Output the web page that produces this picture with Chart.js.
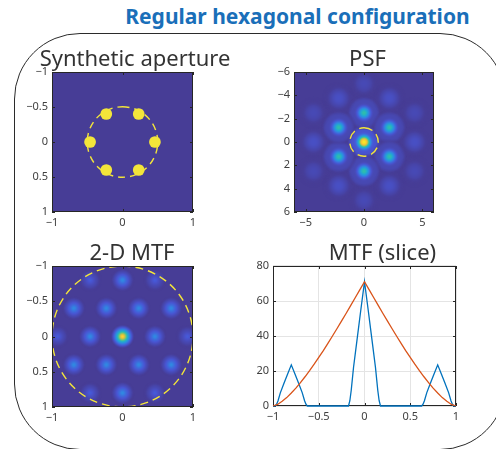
<!DOCTYPE html>
<html>
<head>
<meta charset="utf-8">
<title>Regular hexagonal configuration</title>
<script src="https://cdn.jsdelivr.net/npm/chart.js@4.4.1/dist/chart.umd.min.js"></script>
<style>
  html, body { margin: 0; padding: 0; background: #fff; }
  body { width: 496px; height: 449px; overflow: hidden; position: relative; font-family: "Noto Sans", sans-serif; }
  #mainTitle { position: absolute; left: 0; top: 2px; width: 595px; line-height: 28px; text-align: center;
               font-weight: bold; font-size: 21px; color: #1a6fb9; white-space: nowrap; }
  #frame { position: absolute; left: 14px; top: 33px; width: 492px; height: 417px; box-sizing: border-box;
           border: 1.3px solid #2b2b2b; border-radius: 66px; }
  canvas { position: absolute; }
</style>
</head>
<body>
<div id="mainTitle">Regular hexagonal configuration</div>
<div id="frame"></div>
<canvas id="aperture" width="250" height="195" style="left:10px; top:40px;"></canvas>
<canvas id="psf" width="231" height="195" style="left:252px; top:40px;"></canvas>
<canvas id="mtf2d" width="250" height="195" style="left:10px; top:234px;"></canvas>
<canvas id="slice" width="268" height="195" style="left:250px; top:234px;"></canvas>
<script>
/* global Chart */
Chart.defaults.font.family = '"Noto Sans", sans-serif';
Chart.defaults.animation = false;

// sub-aperture centres (pupil coordinates)
const apertureX = [0.46, 0.23, -0.23, -0.46, -0.23, 0.23];
const apertureY = [0, -0.4, -0.4, 0, 0.4, 0.4];
const apertureRing = 0.5;

// PSF lobes: centre, first ring, second ring, third ring
const psfSpotX = [0, 0, 2.17, 2.17, 0, -2.17, -2.17, 4.33, 2.17, -2.17, -4.33, -2.17, 2.17, 0, 4.33, 4.33, 0, -4.33, -4.33];
const psfSpotY = [0, -2.5, -1.25, 1.25, 2.5, 1.25, -1.25, 0, 3.75, 3.75, 0, -3.75, -3.75, -5, -2.5, 2.5, 5, 2.5, -2.5];
const psfSpotPeak = [1, 0.5, 0.5, 0.5, 0.5, 0.5, 0.5, 0.09, 0.09, 0.09, 0.09, 0.09, 0.09, 0.06, 0.06, 0.06, 0.06, 0.06, 0.06];
const psfRing = 1.22;

// 2-D MTF peaks
const mtfSpotX = [0, 0.46, 0.23, -0.23, -0.46, -0.23, 0.23, 0, 0.69, 0.69, 0, -0.69, -0.69, 0.92, 0.46, -0.46, -0.92, -0.46, 0.46];
const mtfSpotY = [0, 0, -0.4, -0.4, 0, 0.4, 0.4, -0.8, -0.4, 0.4, 0.8, 0.4, -0.4, 0, -0.8, -0.8, 0, 0.8, 0.8];
const mtfSpotPeak = [1, 0.3, 0.3, 0.3, 0.3, 0.3, 0.3, 0.3, 0.3, 0.3, 0.3, 0.3, 0.3, 0.15, 0.15, 0.15, 0.15, 0.15, 0.15];
const mtfRing = 1;

// MTF slice
const sliceBlueX = [-1, -0.975, -0.96, -0.945, -0.92, -0.88, -0.84, -0.8, -0.76, -0.72, -0.68, -0.655, -0.64, -0.625,
  -0.175, -0.16, -0.145, -0.12, -0.08, -0.04, 0, 0.04, 0.08, 0.12, 0.145, 0.16, 0.175,
  0.625, 0.64, 0.655, 0.68, 0.72, 0.76, 0.8, 0.84, 0.88, 0.92, 0.945, 0.96, 0.975, 1];
const sliceBlue = [0, 0, 1, 3, 7.5, 13, 18.3, 23.5, 18.3, 13, 7.5, 3, 1, 0,
  0, 3, 9, 22, 38.5, 55, 71, 55, 38.5, 22, 9, 3, 0,
  0, 1, 3, 7.5, 13, 18.3, 23.5, 18.3, 13, 7.5, 3, 1, 0, 0];
const sliceOrangeX = [-1, -0.95, -0.9, -0.85, -0.8, -0.75, -0.7, -0.65, -0.6, -0.55, -0.5, -0.45, -0.4, -0.35, -0.3, -0.25, -0.2, -0.15, -0.1, -0.05,
  0, 0.05, 0.1, 0.15, 0.2, 0.25, 0.3, 0.35, 0.4, 0.45, 0.5, 0.55, 0.6, 0.65, 0.7, 0.75, 0.8, 0.85, 0.9, 0.95, 1];
const sliceOrange = [0, 0.9, 2.7, 4.8, 7.4, 10.2, 13.4, 16.7, 20.2, 23.9, 27.8, 31.7, 35.8, 40, 44.3, 48.6, 53, 57.5, 62, 66.5,
  71, 66.5, 62, 57.5, 53, 48.6, 44.3, 40, 35.8, 31.7, 27.8, 23.9, 20.2, 16.7, 13.4, 10.2, 7.4, 4.8, 2.7, 0.9, 0];

// tick labels
const unitYTicks = [-1, -0.5, 0, 0.5, 1];
const unitXTicks = [-1, 0, 1];
const psfYTicks = [-6, -4, -2, 0, 2, 4, 6];
const psfXTicks = [-5, 0, 5];
const sliceXTicks = [-1, -0.5, 0, 0.5, 1];
const sliceYTicks = [0, 20, 40, 60, 80];

const yellow = '#f3e53a';
const tickColor = '#404040';

// parula-like colour map
const cmapStops = [
  [0.00, 71, 61, 150],
  [0.12, 72, 86, 212],
  [0.25, 52, 130, 226],
  [0.37, 32, 165, 214],
  [0.50, 48, 190, 170],
  [0.62, 128, 200, 108],
  [0.75, 222, 190, 60],
  [0.87, 248, 202, 52],
  [1.00, 246, 234, 40]
];
function cmapRGB(v) {
  v = Math.max(0, Math.min(1, v));
  for (let i = 1; i < cmapStops.length; i++) {
    const a = cmapStops[i - 1], b = cmapStops[i];
    if (v <= b[0]) {
      const t = (v - a[0]) / (b[0] - a[0]);
      return [a[1] + (b[1] - a[1]) * t, a[2] + (b[2] - a[2]) * t, a[3] + (b[3] - a[3]) * t];
    }
  }
  const l = cmapStops[cmapStops.length - 1];
  return [l[1], l[2], l[3]];
}
function cmap(v) {
  const c = cmapRGB(v);
  return 'rgb(' + c.map(Math.round).join(',') + ')';
}

// spot shapes, radius in axis units
const profiles = {
  psfCore: { name: 'core', R: 1.5, f: r => Math.exp(-r * r / (2 * 0.36 * 0.36)) + 0.09 * Math.exp(-Math.pow(r - 1.05, 2) / 0.08) },
  psfHalo: { name: 'halo', R: 1.4, f: r => Math.exp(-Math.pow(r / 0.75, 2.5)) },
  mtfCone: { name: 'cone', R: 0.17, f: r => Math.pow(Math.max(0, 1 - r / 0.17), 1.5) }
};

const spriteCache = new Map();
function spotSprite(peak, ppu, profile) {
  const key = peak + ':' + ppu.toFixed(2) + ':' + profile.name;
  if (spriteCache.has(key)) return spriteCache.get(key);
  const half = Math.ceil(profile.R * ppu);
  const size = half * 2;
  const c = document.createElement('canvas');
  c.width = c.height = size;
  const g = c.getContext('2d');
  const img = g.createImageData(size, size);
  for (let j = 0; j < size; j++) {
    for (let i = 0; i < size; i++) {
      const r = Math.hypot(i + 0.5 - half, j + 0.5 - half) / ppu;
      const k = (j * size + i) * 4;
      if (r > profile.R) { img.data[k + 3] = 0; continue; }
      const v = peak * profile.f(r);
      const col = cmapRGB(v);
      img.data[k] = col[0]; img.data[k + 1] = col[1]; img.data[k + 2] = col[2];
      img.data[k + 3] = Math.round(255 * Math.min(1, v / 0.03));
    }
  }
  g.putImageData(img, 0, 0);
  spriteCache.set(key, c);
  return c;
}

function pixelsPerUnit(chart) {
  const xs = chart.scales.x;
  if (!xs) return NaN;
  return Math.abs(xs.getPixelForValue(1) - xs.getPixelForValue(0));
}

function spotStyle(peaks, pick) {
  return ctx => {
    const peak = peaks[ctx.dataIndex];
    const ppu = pixelsPerUnit(ctx.chart);
    if (peak === undefined || !isFinite(ppu) || ppu <= 0) return 'circle';
    return spotSprite(peak, ppu, pick(peak));
  };
}

function fmt(v) {
  return v < 0 ? '\u2212' + (-v) : String(v);
}

function panelTitle(text) {
  return {
    display: true, text: text, color: '#333333',
    font: { size: 22, weight: 'normal', lineHeight: 1.15 },
    padding: { top: 6.7, bottom: 0 }
  };
}

function axis(min, max, ticks, extra) {
  return Object.assign({
    type: 'linear', min: min, max: max,
    grid: { display: false, drawTicks: false },
    border: { display: false },
    ticks: { padding: 4, color: tickColor, font: { size: 11 }, callback: fmt },
    afterBuildTicks: s => { s.ticks = ticks.map(v => ({ value: v })); }
  }, extra);
}

function spacer(w) {
  return {
    type: 'linear', position: 'right', min: 0, max: 1,
    grid: { display: false }, border: { display: false }, ticks: { display: false },
    afterFit: s => { s.width = w; }
  };
}

// fill, dashed ring, box and inward ticks
const panelPlugin = {
  id: 'panel',
  beforeDatasetsDraw(chart, args, opts) {
    const a = chart.chartArea;
    const c = chart.ctx;
    if (opts.fill) {
      c.save();
      c.fillStyle = opts.fill;
      c.fillRect(a.left, a.top, a.right - a.left, a.bottom - a.top);
      c.restore();
    }
    if (!opts.boxOnTop) drawBox(chart);
  },
  afterDatasetsDraw(chart, args, opts) {
    const a = chart.chartArea;
    const c = chart.ctx;
    if (opts.ring) {
      const xs = chart.scales.x, ys = chart.scales.y;
      const cx = xs.getPixelForValue(0), cy = ys.getPixelForValue(0);
      const r = Math.abs(xs.getPixelForValue(opts.ring) - cx);
      c.save();
      c.beginPath();
      c.rect(a.left, a.top, a.right - a.left, a.bottom - a.top);
      c.clip();
      c.strokeStyle = yellow;
      c.lineWidth = 1.4;
      c.setLineDash(opts.dash || [7, 5]);
      c.beginPath();
      c.arc(cx, cy, r, -Math.PI / 2, 1.5 * Math.PI);
      c.stroke();
      c.restore();
    }
    if (opts.boxOnTop) drawBox(chart);
  }
};

function drawBox(chart) {
  const a = chart.chartArea;
  const c = chart.ctx;
  const len = 3;
  c.save();
  c.strokeStyle = '#262626';
  c.lineWidth = 1;
  c.strokeRect(Math.round(a.left) + 0.5, Math.round(a.top) + 0.5, Math.round(a.right - a.left) - 1, Math.round(a.bottom - a.top) - 1);
  c.beginPath();
  chart.scales.x.ticks.forEach(t => {
    const px = Math.round(chart.scales.x.getPixelForValue(t.value)) + 0.5;
    c.moveTo(px, a.bottom); c.lineTo(px, a.bottom - len);
    c.moveTo(px, a.top); c.lineTo(px, a.top + len);
  });
  chart.scales.y.ticks.forEach(t => {
    const py = Math.round(chart.scales.y.getPixelForValue(t.value)) + 0.5;
    c.moveTo(a.left, py); c.lineTo(a.left + len, py);
    c.moveTo(a.right, py); c.lineTo(a.right - len, py);
  });
  c.stroke();
  c.restore();
}

const noChrome = { legend: { display: false }, tooltip: { enabled: false } };

// Synthetic aperture
new Chart(document.getElementById('aperture'), {
  type: 'scatter',
  data: {
    datasets: [{
      data: apertureX.map((x, i) => ({ x: x, y: apertureY[i] })),
      pointStyle: 'circle',
      backgroundColor: yellow,
      borderWidth: 0,
      pointRadius: ctx => {
        const ppu = pixelsPerUnit(ctx.chart);
        return isFinite(ppu) ? 0.083 * ppu : 3;
      }
    }]
  },
  options: {
    responsive: false,
    layout: { padding: { left: 6, right: 6, top: 0, bottom: 3 } },
    scales: {
      x: axis(-1, 1, unitXTicks, { afterFit: s => { s.height = 20; } }),
      y: axis(-1, 1, unitYTicks, { reverse: true, afterFit: s => { s.width = 36; } }),
      pad: spacer(61)
    },
    plugins: Object.assign({
      title: panelTitle('Synthetic aperture'),
      panel: { fill: cmap(0), ring: apertureRing, dash: [7, 5], boxOnTop: true }
    }, noChrome)
  },
  plugins: [panelPlugin]
});

// PSF
new Chart(document.getElementById('psf'), {
  type: 'scatter',
  data: {
    datasets: [{
      data: psfSpotX.map((x, i) => ({ x: x, y: psfSpotY[i] })),
      pointStyle: spotStyle(psfSpotPeak, p => (p >= 0.4 ? profiles.psfCore : profiles.psfHalo)),
      pointRadius: 3,
      borderWidth: 0
    }]
  },
  options: {
    responsive: false,
    layout: { padding: { left: 6, right: 6, top: 0, bottom: 3 } },
    scales: {
      x: axis(-6, 6, psfXTicks, { afterFit: s => { s.height = 20; } }),
      y: axis(-6, 6, psfYTicks, { reverse: true, afterFit: s => { s.width = 36; } }),
      pad: spacer(43)
    },
    plugins: Object.assign({
      title: panelTitle('PSF'),
      panel: { fill: cmap(0), ring: psfRing, dash: [9, 5], boxOnTop: true }
    }, noChrome)
  },
  plugins: [panelPlugin]
});

// 2-D MTF
new Chart(document.getElementById('mtf2d'), {
  type: 'scatter',
  data: {
    datasets: [{
      data: mtfSpotX.map((x, i) => ({ x: x, y: mtfSpotY[i] })),
      pointStyle: spotStyle(mtfSpotPeak, () => profiles.mtfCone),
      pointRadius: 3,
      borderWidth: 0
    }]
  },
  options: {
    responsive: false,
    layout: { padding: { left: 6, right: 12, top: 0, bottom: 2 } },
    scales: {
      x: axis(-1, 1, unitXTicks, { afterFit: s => { s.height = 20; } }),
      y: axis(-1, 1, unitYTicks, { reverse: true, afterFit: s => { s.width = 36; } }),
      pad: spacer(55)
    },
    plugins: Object.assign({
      title: panelTitle('2-D MTF'),
      panel: { fill: cmap(0), ring: mtfRing, dash: [8, 5], boxOnTop: true }
    }, noChrome)
  },
  plugins: [panelPlugin]
});

// MTF slice
new Chart(document.getElementById('slice'), {
  type: 'line',
  data: {
    datasets: [{
      data: sliceBlueX.map((x, i) => ({ x: x, y: sliceBlue[i] })),
      borderColor: '#0072BD',
      borderWidth: 1.3,
      pointRadius: 0,
      clip: false,
      order: 2
    }, {
      data: sliceOrangeX.map((x, i) => ({ x: x, y: sliceOrange[i] })),
      borderColor: '#D95319',
      borderWidth: 1.3,
      pointRadius: 0,
      clip: false,
      order: 1
    }]
  },
  options: {
    responsive: false,
    layout: { padding: { left: 3, right: 6, top: 0, bottom: 3 } },
    scales: {
      x: axis(-1, 1, sliceXTicks, {
        grid: { display: true, drawTicks: false, color: '#e4e4e4' },
        afterFit: s => { s.height = 20; }
      }),
      y: axis(0, 80, sliceYTicks, {
        grid: { display: true, drawTicks: false, color: '#e4e4e4' },
        afterFit: s => { s.width = 20; }
      }),
      pad: spacer(56)
    },
    plugins: Object.assign({
      title: panelTitle('MTF (slice)'),
      panel: { boxOnTop: false }
    }, noChrome)
  },
  plugins: [panelPlugin]
});
</script>
</body>
</html>
